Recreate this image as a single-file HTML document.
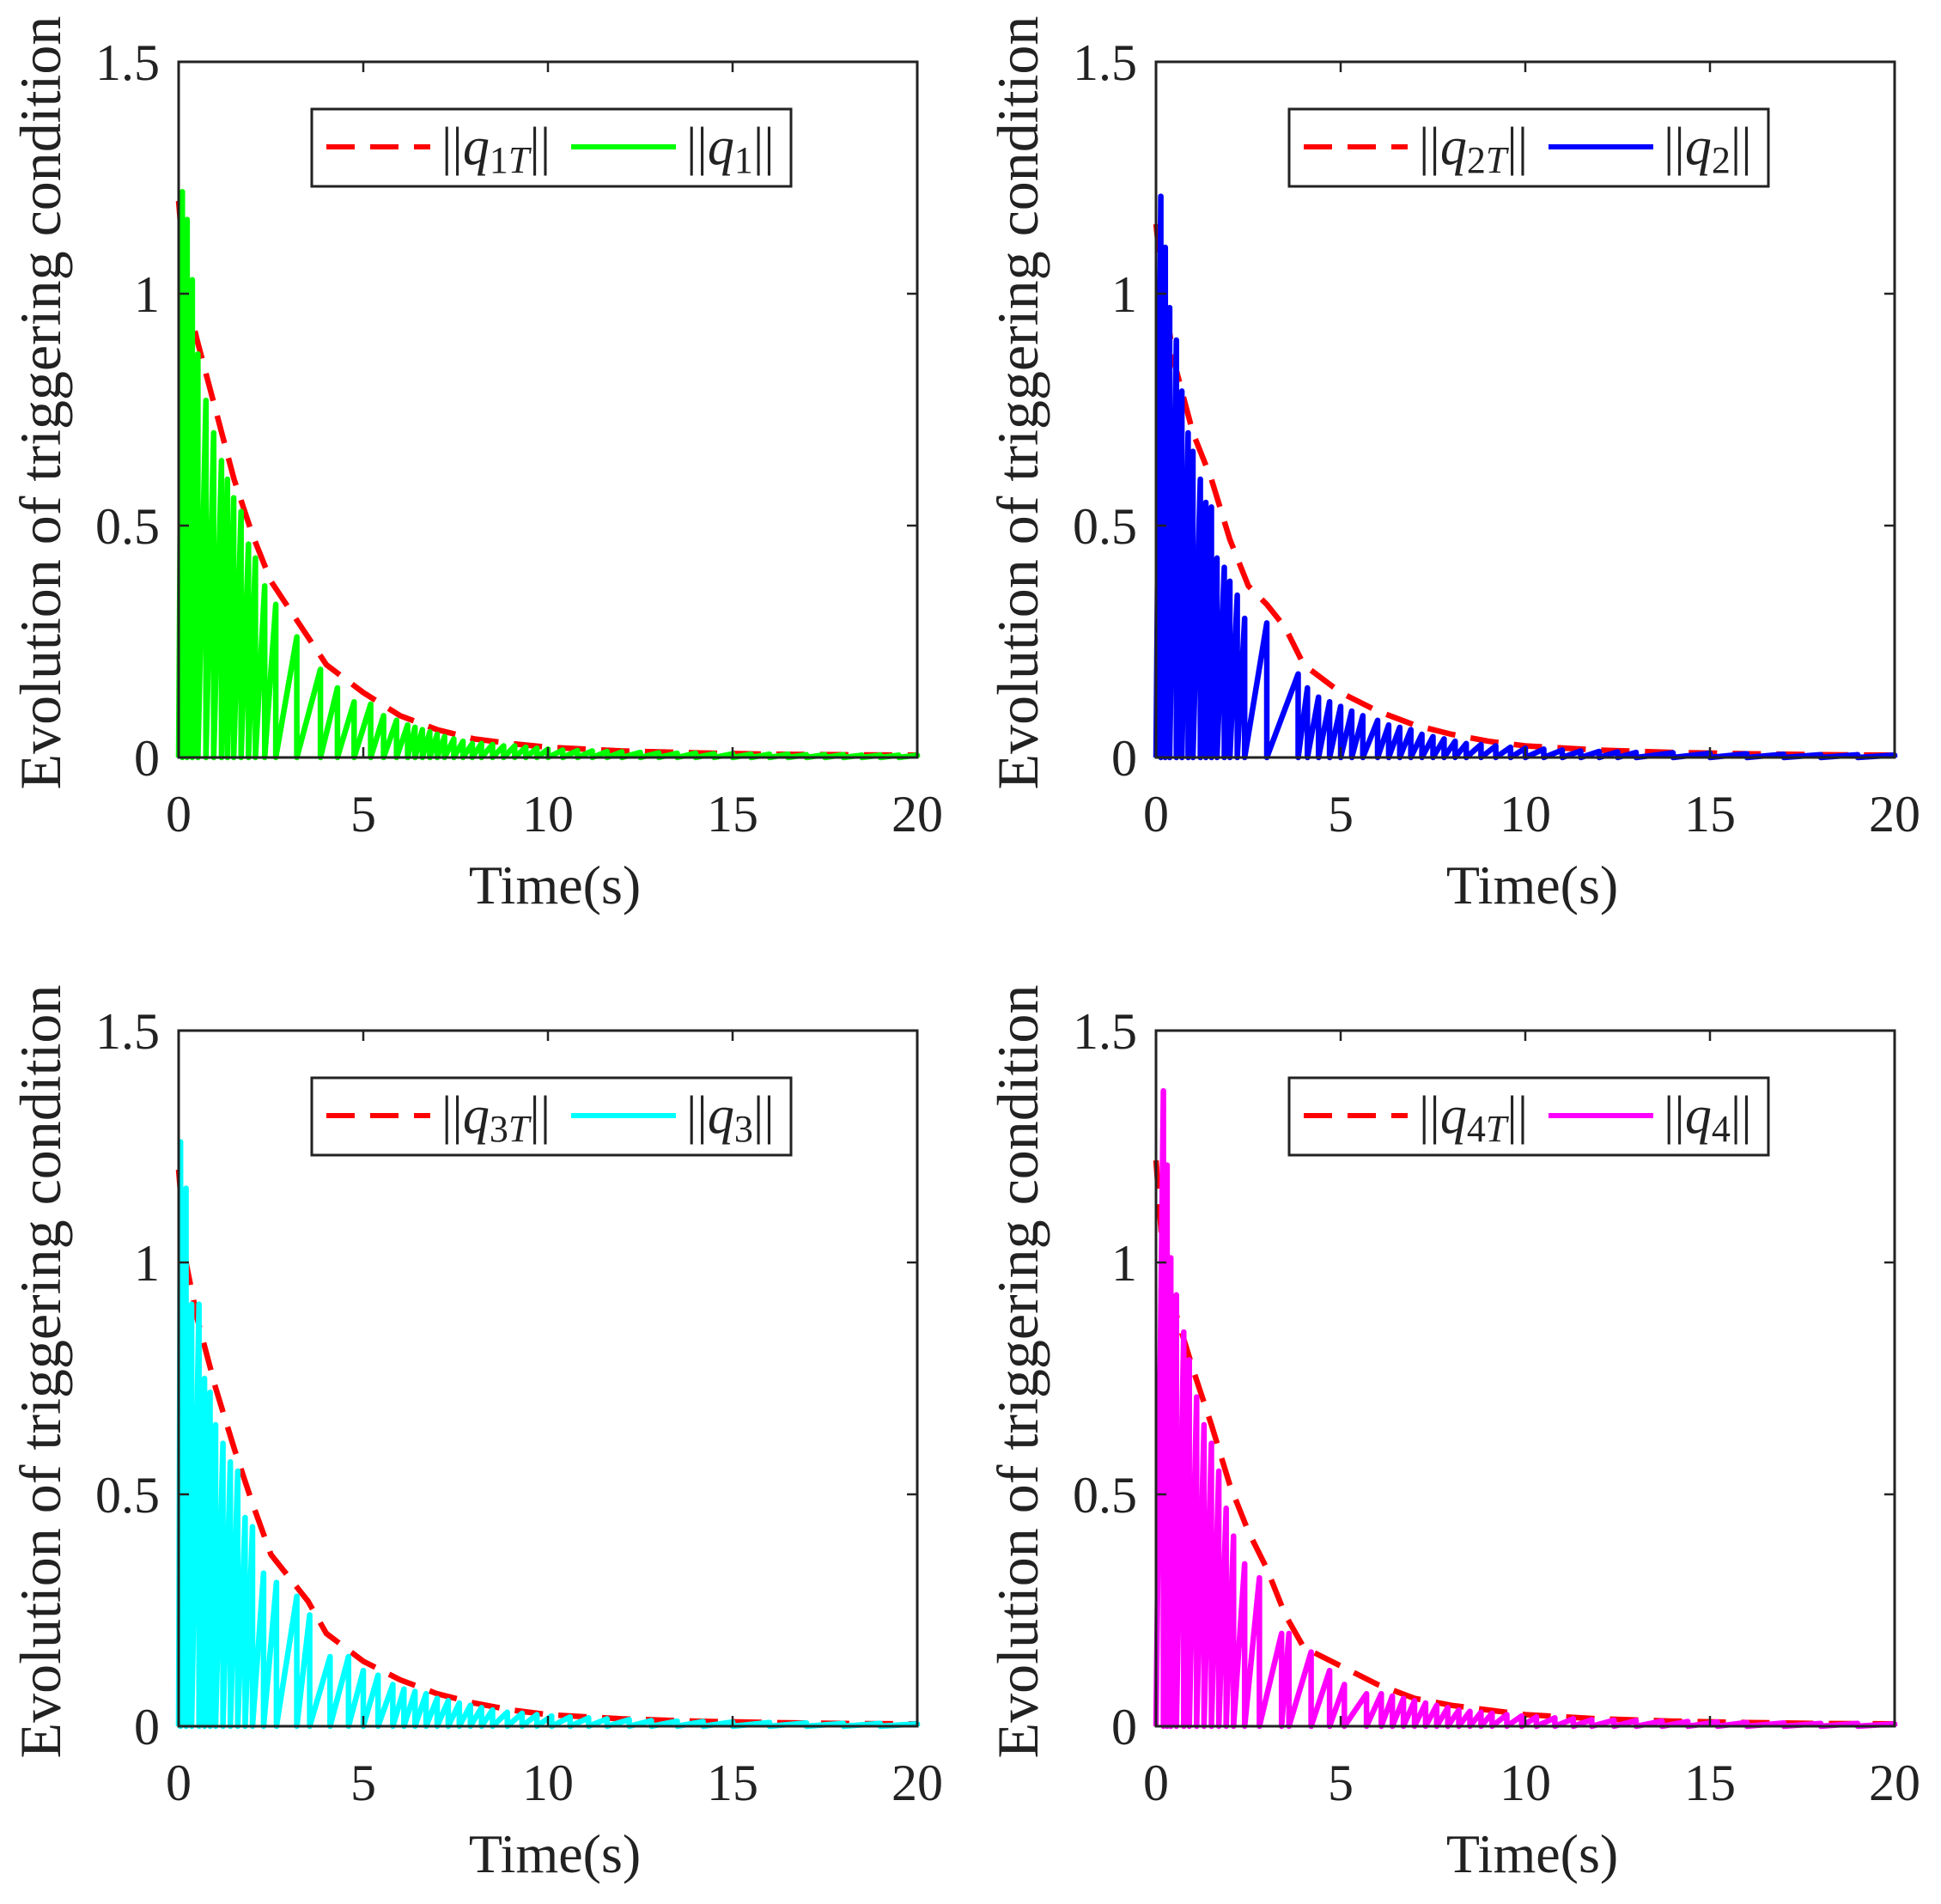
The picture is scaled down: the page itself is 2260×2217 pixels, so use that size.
<!DOCTYPE html>
<html><head><meta charset="utf-8"><style>
html,body{margin:0;padding:0;background:#fff}
svg{display:block}
text{font-family:"Liberation Serif",serif;fill:#222}
</style></head><body>
<svg id="fig" width="2260" height="2217" viewBox="0 0 2260 2217" xmlns="http://www.w3.org/2000/svg"></svg>
<script>
// Threshold curve sample times and values
const thrTimes = [0,0.2,0.5,1,1.5,2,2.5,3,3.5,4,5,6,7,8,9,10,12,14,16,18,20];
const thr1 = [1.2,1.0,0.9,0.75,0.6,0.48,0.38,0.32,0.26,0.2,0.14,0.09,0.06,0.04,0.03,0.022,0.014,0.01,0.007,0.006,0.005];
const thr2 = [1.15,1.0,0.85,0.7,0.6,0.47,0.37,0.33,0.28,0.2,0.14,0.1,0.07,0.05,0.035,0.025,0.016,0.011,0.008,0.006,0.005];
const thr3 = [1.2,1.0,0.88,0.73,0.6,0.48,0.37,0.32,0.27,0.2,0.14,0.1,0.07,0.05,0.035,0.025,0.016,0.011,0.008,0.006,0.005];
const thr4 = [1.22,1.0,0.9,0.77,0.65,0.52,0.42,0.34,0.24,0.17,0.13,0.09,0.06,0.045,0.035,0.025,0.016,0.011,0.008,0.006,0.005];
// Trigger times and peak values of ||q_i|| (sawtooth)
const trig1 = [0.1,0.23,0.37,0.52,0.74,0.95,1.16,1.32,1.49,1.69,1.89,2.08,2.33,2.63,3.2,3.84,4.3,4.75,5.2,5.55,5.9,6.2,6.4,6.6,6.8,7.0,7.2,7.45,7.7,7.95,8.2,8.5,8.8,9.1,9.4,9.7,10.0,10.4,10.8,11.2,11.6,12.0,12.5,13.0,13.5,14,14.5,15,15.5,16,16.5,17,17.5,18,18.5,19,19.5,20];
const peak1 = [1.22,1.16,1.03,0.87,0.77,0.70,0.64,0.60,0.56,0.53,0.46,0.43,0.37,0.33,0.26,0.19,0.15,0.12,0.115,0.09,0.08,0.07,0.065,0.06,0.055,0.05,0.045,0.04,0.035,0.03,0.03,0.028,0.025,0.025,0.022,0.02,0.018,0.016,0.015,0.014,0.013,0.012,0.011,0.01,0.009,0.009,0.008,0.008,0.007,0.007,0.007,0.006,0.006,0.006,0.005,0.005,0.005,0.005];
const trig2 = [0.13,0.25,0.37,0.55,0.7,0.87,1.0,1.2,1.35,1.5,1.65,1.85,2.0,2.2,2.4,3.0,3.85,4.1,4.4,4.7,5.0,5.3,5.6,6.0,6.3,6.6,6.9,7.2,7.5,7.8,8.1,8.4,8.8,9.2,9.6,10.0,10.5,11,11.5,12,12.5,13,14,15,16,17,18,19,20];
const peak2 = [1.21,1.10,0.97,0.90,0.79,0.70,0.66,0.60,0.55,0.54,0.43,0.41,0.38,0.35,0.30,0.29,0.18,0.15,0.13,0.12,0.11,0.10,0.09,0.08,0.07,0.065,0.06,0.05,0.045,0.04,0.035,0.03,0.028,0.025,0.022,0.02,0.018,0.016,0.014,0.013,0.012,0.011,0.01,0.009,0.008,0.007,0.006,0.006,0.005];
const trig3 = [0.05,0.2,0.35,0.55,0.7,0.85,1.0,1.2,1.4,1.6,1.8,2.0,2.3,2.65,3.2,3.55,4.1,4.6,5.0,5.4,5.8,6.1,6.4,6.7,7.0,7.3,7.6,7.9,8.2,8.5,8.9,9.3,9.7,10.1,10.6,11.1,11.6,12.2,12.8,13.5,14.2,15,16,17,18,19,20];
const peak3 = [1.26,1.16,0.91,0.91,0.75,0.72,0.65,0.61,0.57,0.55,0.45,0.43,0.33,0.31,0.28,0.24,0.15,0.15,0.12,0.11,0.09,0.08,0.075,0.07,0.06,0.055,0.05,0.045,0.04,0.035,0.03,0.028,0.025,0.022,0.02,0.018,0.016,0.014,0.012,0.011,0.01,0.009,0.008,0.007,0.006,0.006,0.005];
const trig4 = [0.2,0.3,0.4,0.55,0.75,0.9,1.1,1.3,1.5,1.7,1.9,2.1,2.4,2.8,3.4,3.6,4.2,4.7,5.1,5.7,6.1,6.4,6.7,7.0,7.3,7.6,7.9,8.2,8.5,8.8,9.1,9.5,9.9,10.3,10.8,11.3,11.8,12.4,13,13.7,14.4,15.2,16,17,18,19,20];
const peak4 = [1.37,1.21,1.01,0.93,0.85,0.79,0.71,0.65,0.61,0.55,0.47,0.41,0.35,0.32,0.2,0.2,0.16,0.12,0.09,0.07,0.07,0.065,0.06,0.055,0.05,0.045,0.04,0.035,0.032,0.03,0.028,0.025,0.022,0.02,0.018,0.016,0.014,0.013,0.012,0.011,0.01,0.009,0.008,0.007,0.006,0.006,0.005];
const xTicks = [0,5,10,15,20];
const xTickLabels = ['0','5','10','15','20'];
const yTicks = [0,0.5,1,1.5];
const yTickLabels = ['0','0.5','1','1.5'];

const NS='http://www.w3.org/2000/svg';
const svg=document.getElementById('fig');
function mk(tag,attrs,parent){const e=document.createElementNS(NS,tag);for(const k in attrs)e.setAttribute(k,attrs[k]);(parent||svg).appendChild(e);return e;}

const panels=[
 {ox:0,oy:0,idx:1,color:'#00ff00',thr:thr1,trig:trig1,peak:peak1},
 {ox:1138,oy:0,idx:2,color:'#0000ff',thr:thr2,trig:trig2,peak:peak2},
 {ox:0,oy:1128,idx:3,color:'#00ffff',thr:thr3,trig:trig3,peak:peak3},
 {ox:1138,oy:1128,idx:4,color:'#ff00ff',thr:thr4,trig:trig4,peak:peak4}
];

panels.forEach(p=>{
  const L=208+p.ox,R=1068+p.ox,T=72+p.oy,B=882+p.oy;
  const xs=t=>L+(t/20)*(R-L);
  const ys=v=>B-(v/1.5)*(B-T);
  const g=mk('g',{});
  
  
  let d='';
  p.thr.forEach((v,i)=>{d+=(i?'L':'M')+xs(thrTimes[i]).toFixed(1)+' '+ys(v).toFixed(1);});
  const th=mk('path',{d:d,fill:'none',stroke:'#ff0000','stroke-width':6.5,'stroke-dasharray':'33 18'},g);
  
  
  let s='M'+xs(0)+' '+ys(0);
  p.trig.forEach((t,i)=>{
    s+='L'+xs(t).toFixed(1)+' '+ys(p.peak[i]).toFixed(1);
    s+='L'+xs(t).toFixed(1)+' '+ys(0).toFixed(1);
  });
  const sl=mk('path',{d:s,fill:'none',stroke:p.color,'stroke-width':6.5,'stroke-linejoin':'round'},g);
  
  
  const box=mk('rect',{x:L,y:T,width:R-L,height:B-T,fill:'none',stroke:'#222','stroke-width':3},g);
  
  
  xTicks.forEach((t,i)=>{
    const x=xs(t);
    mk('line',{x1:x,y1:B,x2:x,y2:B-12,stroke:'#222','stroke-width':2.5},g);
    mk('line',{x1:x,y1:T,x2:x,y2:T+12,stroke:'#222','stroke-width':2.5},g);
    const tx=mk('text',{x:x,y:B+86,'font-size':60,'text-anchor':'middle'},g);
    tx.textContent=xTickLabels[i];
    
    
  });
  yTicks.forEach((v,i)=>{
    const y=ys(v);
    mk('line',{x1:L,y1:y,x2:L+12,y2:y,stroke:'#222','stroke-width':2.5},g);
    mk('line',{x1:R,y1:y,x2:R-12,y2:y,stroke:'#222','stroke-width':2.5},g);
    const ty=mk('text',{x:L-22,y:y+21,'font-size':60,'text-anchor':'end'},g);
    ty.textContent=yTickLabels[i];
    
    
  });
  const xl=mk('text',{x:(L+R)/2+8,y:B+170,'font-size':64,'text-anchor':'middle'},g);
  xl.textContent='Time(s)';
  
  
  const yl=mk('text',{x:0,y:0,'font-size':68,'text-anchor':'middle',transform:'translate('+(70+p.ox)+','+((T+B)/2-8)+') rotate(-90)'},g);
  yl.textContent='Evolution of triggering condition';
  
  
  const lx=363+p.ox, ly=127+p.oy;
  const lg=mk('g',{},g);
  
  
  mk('rect',{x:lx,y:ly,width:558,height:90,fill:'#fff',stroke:'#222','stroke-width':3},lg);
  mk('line',{x1:lx+17,y1:ly+44,x2:lx+138,y2:ly+44,stroke:'#ff0000','stroke-width':6,'stroke-dasharray':'33 18'},lg);
  const t1=mk('text',{x:lx+151,y:ly+64,'font-size':62},lg);
  
  
  t1.innerHTML='||<tspan font-style="italic">q</tspan><tspan font-size="44" dy="10">'+p.idx+'</tspan><tspan font-size="44" font-style="italic">T</tspan><tspan dy="-10">||</tspan>';
  mk('line',{x1:lx+302,y1:ly+44,x2:lx+424,y2:ly+44,stroke:p.color,'stroke-width':6},lg);
  const t2=mk('text',{x:lx+436,y:ly+64,'font-size':62},lg);
  
  
  t2.innerHTML='||<tspan font-style="italic">q</tspan><tspan font-size="44" dy="10">'+p.idx+'</tspan><tspan dy="-10">||</tspan>';
});
</script>
</body></html>
